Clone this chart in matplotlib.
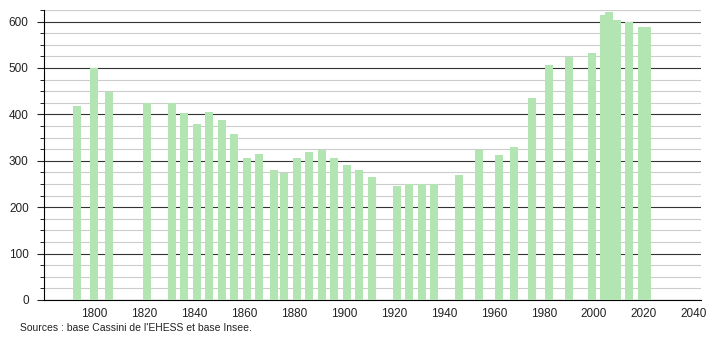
import matplotlib
matplotlib.use("Agg")
import matplotlib.pyplot as plt
from matplotlib.ticker import MultipleLocator

plt.rcParams['font.family'] = ['Liberation Sans', 'DejaVu Sans']

# census years and population
years = [1793, 1800, 1806, 1821, 1831, 1836, 1841, 1846, 1851, 1856,
         1861, 1866, 1872, 1876, 1881, 1886, 1891, 1896, 1901, 1906,
         1911, 1921, 1926, 1931, 1936, 1946, 1954, 1962, 1968, 1975,
         1982, 1990, 1999, 2004, 2006, 2009, 2014, 2019, 2021]
population = [419, 501, 449, 424, 424, 402, 380, 406, 389, 357,
              307, 315, 281, 274, 307, 318, 323, 307, 292, 281,
              266, 245, 251, 250, 250, 269, 323, 313, 329, 436,
              506, 524, 533, 614, 620, 603, 599, 589, 588]

x_ticks = [1800, 1820, 1840, 1860, 1880, 1900, 1920, 1940, 1960, 1980, 2000, 2020, 2040]
y_ticks = [0, 100, 200, 300, 400, 500, 600]
source = "Sources : base Cassini de l'EHESS et base Insee."


def main():
    fig = plt.figure(figsize=(7.1, 3.4), dpi=100)
    ax = fig.add_axes([44 / 710, 40 / 340, 657 / 710, 290 / 340])

    ax.bar(years, population, width=3.2, color='#b2e5b2', zorder=3)

    ax.set_xlim(1780, 2042.8)
    ax.set_ylim(0, 625)
    ax.set_xticks(x_ticks)
    ax.set_yticks(y_ticks)
    ax.yaxis.set_minor_locator(MultipleLocator(25))

    # grid: dark every 100, light every 25
    ax.grid(axis='y', which='minor', color='#cccccc', linewidth=0.8, zorder=1)
    ax.grid(axis='y', which='major', color='#333333', linewidth=0.8, zorder=2)
    ax.axhline(625, color='#cccccc', linewidth=0.8, zorder=1)

    for side in ['top', 'right']:
        ax.spines[side].set_visible(False)
    ax.spines['left'].set_linewidth(0.8)
    ax.spines['bottom'].set_linewidth(0.8)

    ax.tick_params(axis='x', length=0, labelsize=8.5, pad=6, colors='#222222')
    ax.tick_params(axis='y', which='major', length=5, width=0.8, labelsize=8.5, pad=6, colors='#222222')
    ax.tick_params(axis='y', which='minor', length=3, width=0.6)

    fig.text(20 / 710, 1 - 328 / 340, source, fontsize=7.5, va='center', ha='left', color='#222222')

    fig.savefig('out.png', dpi=100)


if __name__ == "__main__":
    main()
